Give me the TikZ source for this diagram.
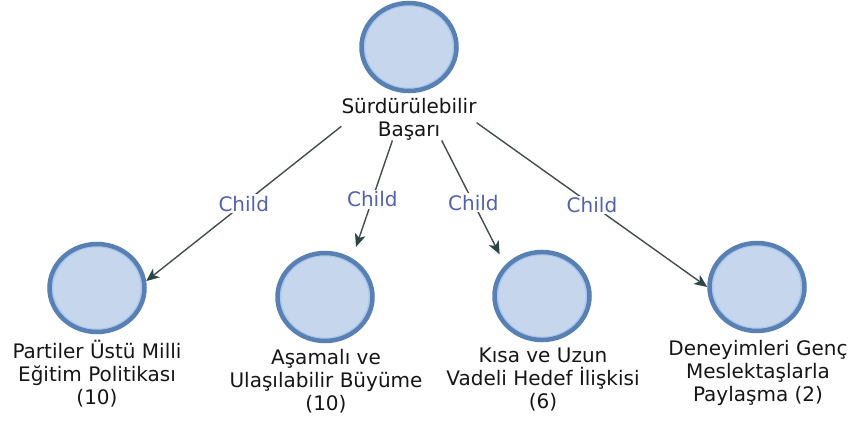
\documentclass[tikz,border=0pt]{standalone}
\usepackage{fontspec}
\newfontfamily\lblfont{DejaVu Sans}
\usetikzlibrary{shapes.geometric,arrows.meta}
\definecolor{circfill}{RGB}{198,214,236}
\definecolor{circline}{RGB}{88,128,178}
\definecolor{circring}{RGB}{170,200,238}
\definecolor{edgecol}{RGB}{66,78,78}
\definecolor{tipcol}{RGB}{42,70,70}
\definecolor{childcol}{RGB}{82,98,172}
\definecolor{textcol}{RGB}{22,22,22}
\tikzset{
  circ/.style={ellipse, minimum width=95pt, minimum height=88pt, inner sep=0pt,
    fill=circfill, draw=circline, line width=4.5pt,
    path picture={\draw[circring, line width=1.8pt] (path picture bounding box.center) ellipse (44.5pt and 41.5pt);}},
  lab/.style={align=center, inner sep=0pt, text=textcol, anchor=north,
    font=\fontsize{20}{23}\selectfont\lblfont, execute at begin node={\rule{0pt}{19pt}}},
  edge/.style={draw=edgecol, line width=1.4pt, -{Stealth[length=13pt,width=11pt,inset=3.5pt,color=tipcol]}},
  childlab/.style={fill=white, inner sep=1.5pt, text=childcol, font=\fontsize{20}{23}\selectfont\lblfont}
}
\begin{document}
\begin{tikzpicture}[x=1pt,y=-1pt]
\useasboundingbox[fill=white] (0,0) rectangle (854,425);
% top
\node[circ] (t) at (409,47) {};
\node[lab] (tl) at (409,98) {Sürdürülebilir\\Başarı};
% children
\node[circ] (c1) at (97,288) {};
\node[lab] (l1) at (97,340) {Partiler Üstü Milli\\Eğitim Politikası\\(10)};
\node[circ] (c2) at (325,297) {};
\node[lab] (l2) at (326,349) {Aşamalı ve\\Ulaşılabilir Büyüme\\(10)};
\node[circ] (c3) at (542,296) {};
\node[lab] (l3) at (543,348) {Kısa ve Uzun\\Vadeli Hedef İlişkisi\\(6)};
\node[circ] (c4) at (757,287) {};
\node[lab] (l4) at (758,340) {Deneyimleri Genç\\Meslektaşlarla\\Paylaşma (2)};
% edges
\draw[edge] (tl.186) -- node[childlab] {Child} (c1.8);
\draw[edge, shorten >=12pt] (tl.232) -- node[childlab] {Child} (c2.55);
\draw[edge, shorten >=12pt] (tl.327) -- node[childlab] {Child} (c3.140);
\draw[edge] (tl.357) -- node[childlab] {Child} (c4.180);
\end{tikzpicture}
\end{document}
